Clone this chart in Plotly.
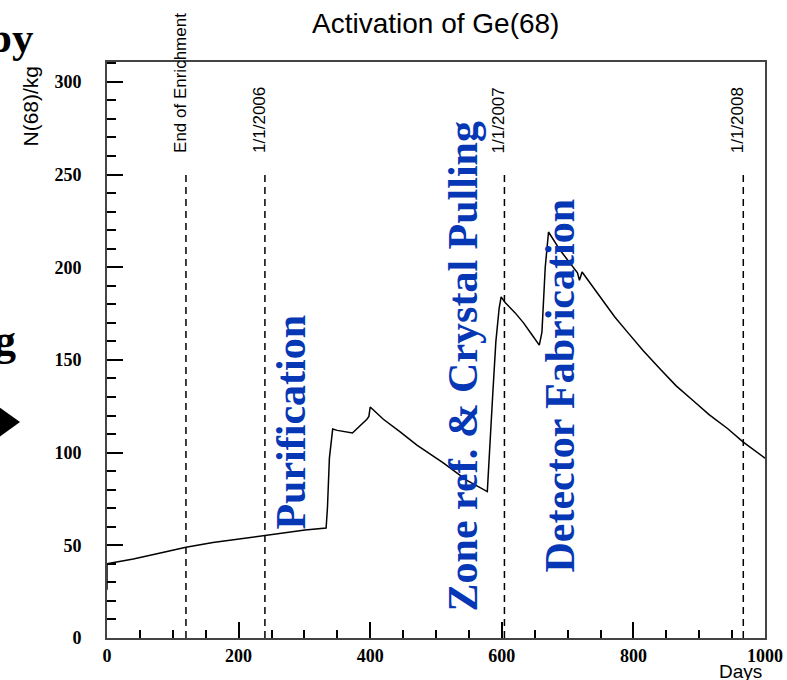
import plotly.graph_objects as go

# ---- data ----
days = [0, 0, 2, 40, 81, 120, 161, 202, 240, 270, 301, 333,
        335, 338, 343, 350, 373, 395, 398, 400, 420, 446, 471, 511, 547, 578,
        581, 586, 591, 596, 599, 605, 620, 633, 645, 657,
        661, 666, 671, 689, 715, 718, 722, 740, 755, 772, 791, 815, 841, 865,
        891, 915, 943, 967, 1000]
n68 = [26, 40, 40.2, 42.6, 45.8, 49, 51.5, 53.4, 55.2, 56.8, 58.3, 59.3,
       70, 97, 112.7, 112, 110.6, 118, 119.5, 124.6, 118, 111, 104, 94.5, 85, 79,
       100, 130, 160, 178, 184, 181, 175.5, 170, 164, 158,
       165, 200, 219, 209, 197, 193, 197.4, 188.5, 181, 173, 165, 155, 145, 136,
       128, 120.5, 113, 105.7, 97]

marker_days = [120, 240, 604, 967]
marker_labels = ["End of Enrichment", "1/1/2006", "1/1/2007", "1/1/2008"]
marker_top = 251

phase_labels = ["Purification", "Zone ref. & Crystal Pulling", "Detector Fabrication"]
phase_x = [279, 541, 688]
phase_y = [116.5, 146.5, 136]

title_text = "Activation of Ge(68)"
y_title = "N(68)/kg"
x_title = "Days"

# ---- layout geometry (pixels) ----
W, H = 787, 680
L, R, T, B = 107, 765, 62, 638


def px(x):
    return (x - L) / (R - L)


def py(y):
    return (B - y) / (B - T)


BLUE = "#0637b4"
SANS = "Liberation Sans, Arial, sans-serif"
SERIF = "Liberation Serif, Times New Roman, serif"

fig = go.Figure()

# dashed date markers
for d in marker_days:
    fig.add_trace(go.Scatter(x=[d, d], y=[0, marker_top], mode="lines",
                             line=dict(color="black", width=1.5, dash="7px,5px"),
                             hoverinfo="skip", showlegend=False))

# activation curve
fig.add_trace(go.Scatter(x=days, y=n68, mode="lines",
                         line=dict(color="black", width=1.5),
                         hoverinfo="skip", showlegend=False))

ann = []
# marker labels (vertical)
for d, lab in zip(marker_days, marker_labels):
    ann.append(dict(x=d, y=py(155), xref="x", yref="paper", text=lab,
                    textangle=-90, showarrow=False, xanchor="center", yanchor="bottom",
                    xshift=-6, font=dict(family=SANS, size=17, color="black")))

# phase labels
for t, xx, yy in zip(phase_labels, phase_x, phase_y):
    ann.append(dict(x=xx, y=yy, xref="x", yref="y", text=t, textangle=-90,
                    showarrow=False, xanchor="center", yanchor="middle",
                    font=dict(family=SERIF, size=42, color=BLUE, weight="bold")))

# title
ann.append(dict(x=px(435), y=py(23), xref="paper", yref="paper", text=title_text,
                showarrow=False, xanchor="center", yanchor="middle",
                font=dict(family=SANS, size=28, color="black")))
# y title
ann.append(dict(x=px(30), y=py(64), xref="paper", yref="paper", text=y_title,
                textangle=-90, showarrow=False, xanchor="center", yanchor="top",
                font=dict(family=SANS, size=21, color="black")))
# x title
ann.append(dict(x=px(764), y=py(671), xref="paper", yref="paper", text=x_title,
                showarrow=False, xanchor="right", yanchor="middle",
                font=dict(family=SANS, size=19, color="black")))

# cropped slide text at the left edge
ann.append(dict(x=px(36), y=py(37), xref="paper", yref="paper", text="py",
                showarrow=False, xanchor="right", yanchor="middle",
                font=dict(family=SERIF, size=43, color="black", weight="bold")))
ann.append(dict(x=px(18), y=py(340), xref="paper", yref="paper", text="g",
                showarrow=False, xanchor="right", yanchor="middle",
                font=dict(family=SERIF, size=44, color="black", weight="bold")))

shapes = [dict(type="path", xref="paper", yref="paper",
               path=f"M {px(-12)},{py(399)} L {px(20)},{py(422)} L {px(-12)},{py(445)} Z",
               fillcolor="black", line=dict(width=0))]

fig.update_layout(
    width=W, height=H,
    margin=dict(l=L, r=W - R, t=T, b=H - B, autoexpand=False),
    paper_bgcolor="white", plot_bgcolor="white",
    showlegend=False,
    annotations=ann,
    shapes=shapes,
    xaxis=dict(range=[0, 1000], tick0=0, dtick=200, ticks="inside", ticklen=16,
               tickwidth=1.5, tickcolor="black",
               minor=dict(tick0=0, dtick=50, ticks="inside", ticklen=8,
                          tickwidth=1.5, tickcolor="black"),
               showline=True, linecolor="#444", linewidth=2, mirror=True,
               showgrid=False, zeroline=False, ticklabelstandoff=0, automargin=False,
               tickfont=dict(family=SERIF, size=18, color="black", weight="bold")),
    yaxis=dict(range=[0, 310.7], tick0=0, dtick=50, ticks="inside", ticklen=16,
               tickwidth=1.5, tickcolor="black",
               minor=dict(tick0=0, dtick=10, ticks="inside", ticklen=9,
                          tickwidth=1.5, tickcolor="black"),
               showline=True, linecolor="#444", linewidth=2, mirror=True,
               showgrid=False, zeroline=False, ticklabelstandoff=20, automargin=False,
               tickfont=dict(family=SERIF, size=18, color="black", weight="bold")),
)

fig.write_html("out.html", config={"displayModeBar": False},
               post_script="document.body.style.margin='0';document.body.style.overflow='hidden';")
